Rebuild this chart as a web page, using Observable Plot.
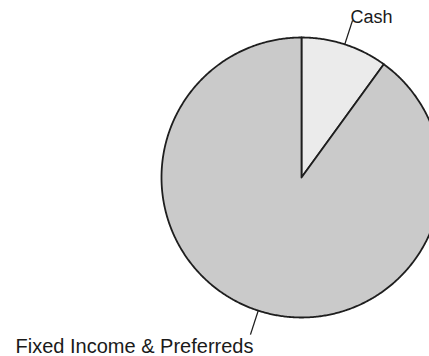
<!DOCTYPE html>
<html>
<head>
<meta charset="utf-8">
<script src="https://cdn.jsdelivr.net/npm/d3@7"></script>
<script src="https://cdn.jsdelivr.net/npm/@observablehq/plot@0.6"></script>
<style>
  html, body { margin: 0; padding: 0; background: #fff; }
  #chart svg { display: block; }
</style>
</head>
<body>
<div id="chart"></div>
<script>
const categories = ["Cash", "Fixed Income & Preferreds"];
const values = [10, 90];

const W = 429, H = 356;
const cx = 301, cy = 177, R = 140;

const arcs = d3.pie().sort(null).value(d => d.value)(
  categories.map((c, i) => ({category: c, value: values[i]}))
);

// polygon outline of each slice (center + arc samples)
const poly = [];
for (const a of arcs) {
  const cat = a.data.category;
  poly.push({cat, x: 0, y: 0});
  const n = Math.max(2, Math.ceil((a.endAngle - a.startAngle) / (Math.PI / 360)));
  for (let k = 0; k <= n; k++) {
    const t = a.startAngle + (a.endAngle - a.startAngle) * k / n;
    poly.push({cat, x: Math.sin(t), y: Math.cos(t)});
  }
}

const leaders = arcs.map(a => {
  const m = (a.startAngle + a.endAngle) / 2;
  return {cat: a.data.category, m,
    x1: Math.sin(m), y1: Math.cos(m),
    x2: 1.18 * Math.sin(m), y2: 1.18 * Math.cos(m)};
});

const chart = Plot.plot({
  width: W, height: H,
  marginTop: 0, marginBottom: 0, marginLeft: 0, marginRight: 0,
  x: {domain: [-cx / R, (W - cx) / R], axis: null},
  y: {domain: [-(H - cy) / R, cy / R], axis: null},
  color: {domain: categories, range: ["#ebebeb", "#cacaca"]},
  style: {fontFamily: "'Liberation Sans', Arial, sans-serif", fontSize: "19px", color: "#1a1a1a", background: "#fff"},
  marks: [
    Plot.line(poly, {x: "x", y: "y", z: "cat", fill: "cat", stroke: "#1e1e1e", strokeWidth: 1.8, curve: "linear-closed", strokeLinejoin: "round"}),
    Plot.link(leaders, {x1: "x1", y1: "y1", x2: "x2", y2: "y2", stroke: "#1e1e1e", strokeWidth: 1.3}),
    Plot.text(leaders.filter(d => d.cat === "Cash"), {x: "x2", y: "y2", text: "cat", textAnchor: "start", lineAnchor: "bottom", dx: -2, dy: 3, fill: "#1a1a1a", fontSize: 18}),
    Plot.text(leaders.filter(d => d.cat !== "Cash"), {x: "x2", y: "y2", text: "cat", textAnchor: "end", lineAnchor: "top", dx: 3, dy: 4, fill: "#1a1a1a", fontSize: 20})
  ]
});
document.getElementById("chart").appendChild(chart);
</script>
</body>
</html>
